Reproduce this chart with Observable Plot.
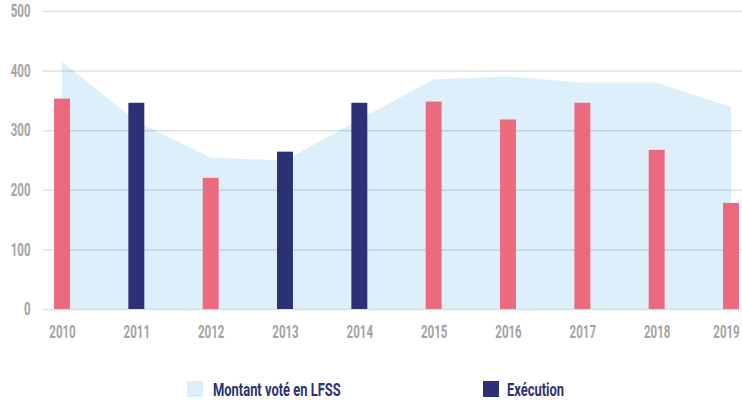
<!DOCTYPE html>
<html>
<head>
<meta charset="utf-8">
<script src="https://cdn.jsdelivr.net/npm/d3@7"></script>
<script src="https://cdn.jsdelivr.net/npm/@observablehq/plot@0.6"></script>
<style>
  html, body { margin: 0; padding: 0; background: #fff; }
  #wrap { width: 742px; height: 403px; position: relative; overflow: hidden; }
  #legend { position: absolute; left: 0; top: 360px; width: 742px; height: 43px;
    font-family: Roboto, "Noto Sans", sans-serif;
    font-weight: bold; font-size: 19px; color: #2B3174; }
  .sw { position: absolute; top: 21px; width: 16px; height: 16px; }
  .lb { position: absolute; top: 18px; line-height: 24px; white-space: nowrap;
    transform: scaleX(0.68); transform-origin: left center; }
</style>
</head>
<body>
<div id="wrap">
  <div id="chart"></div>
  <div id="legend"></div>
</div>
<script>
const years = [2010, 2011, 2012, 2013, 2014, 2015, 2016, 2017, 2018, 2019];
const montantVote = [415, 315, 254, 249, 318, 385, 390, 380, 380, 339];
const execution = [353, 346, 220, 264, 346, 348, 318, 346, 267, 178];
const barGroup = ["rose", "bleu", "rose", "bleu", "bleu", "rose", "rose", "rose", "rose", "rose"];
const yTicks = [0, 100, 200, 300, 400, 500];
const legendLabels = ["Montant voté en LFSS", "Exécution"];

const colAire = "#DCEFFA";
const colRose = "#EC6A7E";
const colBleu = "#2B3174";

const data = years.map((y, i) => ({year: y, vote: montantVote[i], exec: execution[i], group: barGroup[i]}));

const chart = Plot.plot({
  width: 742,
  height: 360,
  marginLeft: 62,
  marginRight: 11,
  marginTop: 11,
  marginBottom: 51,
  style: {fontFamily: 'Roboto, "Noto Sans", sans-serif', fontSize: "17.5px", overflow: "visible"},
  x: {domain: [years[0], years[years.length - 1]]},
  y: {domain: [0, 500]},
  color: {domain: ["rose", "bleu"], range: [colRose, colBleu]},
  marks: [
    Plot.areaY(data, {x: "year", y: "vote", fill: colAire}),
    Plot.ruleY(yTicks, {stroke: "#000", strokeOpacity: 0.12, strokeWidth: 1.5, insetLeft: -19, insetRight: -11}),
    Plot.rectY(data, {x1: d => d.year - 0.5, x2: d => d.year + 0.5, y: "exec", fill: "group", insetLeft: 29.2, insetRight: 29.2}),
    Plot.axisY(yTicks, {tickSize: 0, tickPadding: 32, fill: "#a3a3a3", fontWeight: "bold", label: null, className: "ax-y"}),
    Plot.axisX(years.slice(0, -1), {tickSize: 0, tickPadding: 16, fill: "#a3a3a3", fontWeight: "bold", tickFormat: d => String(d), label: null, className: "ax-x"}),
    Plot.axisX(years.slice(-1), {tickSize: 0, tickPadding: 16, dx: -5, fill: "#a3a3a3", fontWeight: "bold", tickFormat: d => String(d), label: null, className: "ax-x"})
  ]
});
// condense axis labels horizontally around their anchor
d3.select(chart).selectAll("g.ax-y text, g.ax-x text").each(function() {
  const t = this.getAttribute("transform") || "";
  this.setAttribute("transform", (t + " scale(0.66,1)").trim());
});
document.getElementById("chart").appendChild(chart);

const legend = document.getElementById("legend");
const items = [
  {label: legendLabels[0], color: colAire, sx: 187, tx: 213},
  {label: legendLabels[1], color: colBleu, sx: 483, tx: 507}
];
for (const it of items) {
  const s = document.createElement("div");
  s.className = "sw"; s.style.left = it.sx + "px"; s.style.background = it.color;
  legend.appendChild(s);
  const t = document.createElement("div");
  t.className = "lb"; t.style.left = it.tx + "px"; t.textContent = it.label;
  legend.appendChild(t);
}
</script>
</body>
</html>
